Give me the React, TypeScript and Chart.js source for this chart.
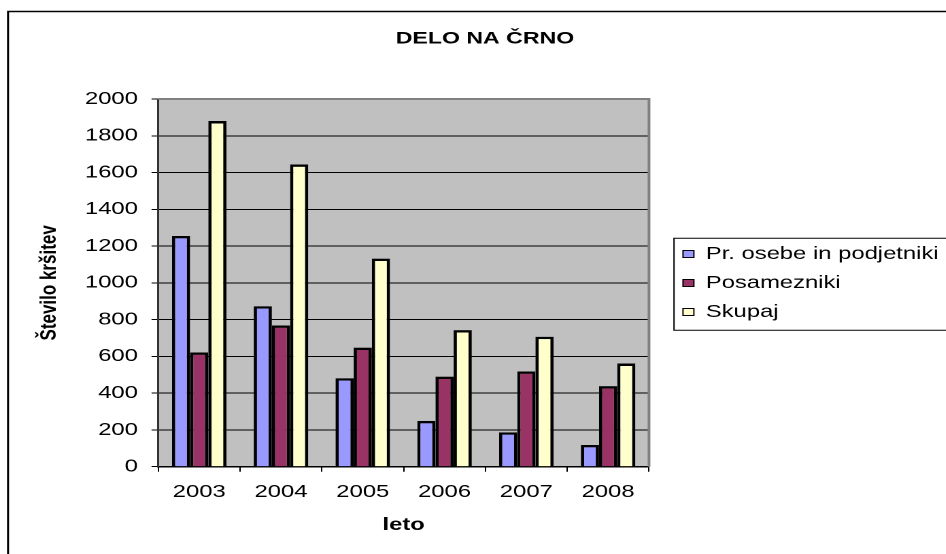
import React, { useEffect, useRef } from "react";
import { Chart, registerables } from "chart.js";

Chart.register(...registerables);

// ---- data ----
const years = ["2003", "2004", "2005", "2006", "2007", "2008"];
const seriesNames = ["Pr. osebe in podjetniki", "Posamezniki", "Skupaj"];
const podjetniki = [1255, 873, 481, 249, 187, 118];
const posamezniki = [621, 768, 648, 490, 518, 438];
const skupaj = [1880, 1644, 1132, 743, 707, 561];
const yMin = 0;
const yMax = 2000;
const yStep = 200;
const chartTitle = "DELO NA ČRNO";
const xTitle = "leto";
const yTitle = "Število kršitev";

// ---- style ----
const SX = 1.36; // horizontal stretch of the whole picture
const CW = 760;
const CH = 554;
const FONT = "'Liberation Sans', Arial, Helvetica, sans-serif";
const colors = ["#9999FF", "#993366", "#FFFFCC"];

const decor = {
  id: "decor",
  afterLayout(chart: any) {
    const ca = chart.chartArea;
    const t = chart.titleBlock;
    if (t) {
      t.left = 0;
      t.right = 713.2;
      t.width = 713.2;
    }
    const lg = chart.legend;
    if (lg) {
      const pad = lg.options.labels.padding;
      const dx = ca.right + 25 - (lg.left + pad);
      lg.left += dx;
      lg.right += dx;
      lg.top += 6;
      lg.bottom += 6;
    }
  },
  beforeDraw(chart: any) {
    const { ctx, chartArea: ca } = chart;
    ctx.save();
    ctx.fillStyle = "#C0C0C0";
    ctx.fillRect(ca.left, ca.top, ca.right - ca.left, ca.bottom - ca.top);
    // outer frame (left and top only visible)
    ctx.strokeStyle = "#000";
    ctx.lineWidth = 1.5;
    ctx.beginPath();
    ctx.moveTo(5.9, CH + 5);
    ctx.lineTo(5.9, 11.5);
    ctx.lineTo(CW + 5, 11.5);
    ctx.stroke();
    ctx.restore();
  },
  beforeDatasetsDraw(chart: any) {
    const { ctx, chartArea: ca } = chart;
    ctx.save();
    ctx.strokeStyle = "#808080";
    ctx.lineWidth = 2;
    ctx.beginPath();
    ctx.moveTo(ca.left, ca.top);
    ctx.lineTo(ca.right, ca.top);
    ctx.lineTo(ca.right, ca.bottom);
    ctx.stroke();
    ctx.restore();
  },
  afterDraw(chart: any) {
    const { ctx, chartArea: ca } = chart;
    const lg = chart.legend;
    if (!lg || !lg.columnSizes || !lg.columnSizes[0]) return;
    const pad = lg.options.labels.padding;
    const colH = lg.columnSizes[0].height;
    const firstTop = (lg.top + pad + lg.bottom - colH) / 2;
    ctx.save();
    ctx.strokeStyle = "#000";
    ctx.lineWidth = 1;
    ctx.strokeRect(ca.right + 18.4, firstTop - 7, CW, 92);
    ctx.restore();
  },
};

export default function App() {
  const ref = useRef<HTMLCanvasElement>(null);

  useEffect(() => {
    const canvas = ref.current;
    if (!canvas) return;
    const data = [podjetniki, posamezniki, skupaj];
    const chart = new Chart(canvas, {
      type: "bar",
      data: {
        labels: years,
        datasets: seriesNames.map((name, i) => ({
          label: name,
          data: data[i],
          backgroundColor: colors[i],
          borderColor: "#000",
          borderWidth: 2.4,
          categoryPercentage: 3 / 4.5,
          barPercentage: 1,
        })),
      },
      options: {
        animation: false,
        responsive: false,
        maintainAspectRatio: false,
        devicePixelRatio: 2,
        layout: { padding: { left: 6, right: 82.8, top: 0, bottom: 0 } },
        plugins: {
          tooltip: { enabled: false },
          title: {
            display: true,
            text: chartTitle,
            color: "#000",
            font: { family: FONT, size: 17, weight: "bold" },
            padding: { top: 28.7, bottom: 49.9 },
          },
          legend: {
            display: true,
            position: "right",
            maxWidth: 200,
            labels: {
              color: "#000",
              font: { family: FONT, size: 17.5 },
              boxWidth: 8,
              boxHeight: 7,
              padding: 11.5,
              generateLabels: (c: any) =>
                Chart.defaults.plugins.legend.labels
                  .generateLabels(c)
                  .map((l: any) => ({ ...l, lineWidth: 1, strokeStyle: "#000" })),
            },
          },
        },
        scales: {
          x: {
            offset: true,
            grid: {
              display: true,
              offset: true,
              drawOnChartArea: false,
              drawTicks: true,
              tickLength: 5,
              color: "#000",
              tickColor: "#000",
            },
            border: { display: true, color: "#000", width: 1.5 },
            ticks: {
              color: "#000",
              font: { family: FONT, size: 17.5 },
              padding: 10,
              maxRotation: 0,
            },
            title: {
              display: true,
              text: xTitle,
              color: "#000",
              font: { family: FONT, size: 17.5, weight: "bold" },
              padding: { top: 1.8, bottom: 18.5 },
            },
          },
          y: {
            min: yMin,
            max: yMax,
            afterFit: (scale: any) => {
              scale.width = 110.4;
            },
            grid: {
              color: "#000",
              lineWidth: 1,
              tickLength: 5,
              tickColor: "#000",
            },
            border: { display: true, color: "#333", width: 1.5 },
            ticks: {
              stepSize: yStep,
              color: "#000",
              font: { family: FONT, size: 17.5 },
              padding: 10,
              callback: (v: any) => String(v),
            },
            title: {
              display: true,
              text: yTitle,
              color: "#000",
              font: { family: FONT, size: 17, weight: "bold" },
              padding: { top: 20.3, bottom: 0 },
            },
          },
        },
      },
      plugins: [decor],
    } as any);
    return () => chart.destroy();
  }, []);

  return (
    <div
      style={{
        position: "fixed",
        left: 0,
        top: 0,
        width: 946,
        height: 554,
        overflow: "hidden",
        background: "#fff",
      }}
    >
      <canvas
        ref={ref}
        width={CW}
        height={CH}
        style={{
          display: "block",
          width: CW,
          height: CH,
          transform: `scaleX(${SX})`,
          transformOrigin: "0 0",
        }}
      />
    </div>
  );
}
